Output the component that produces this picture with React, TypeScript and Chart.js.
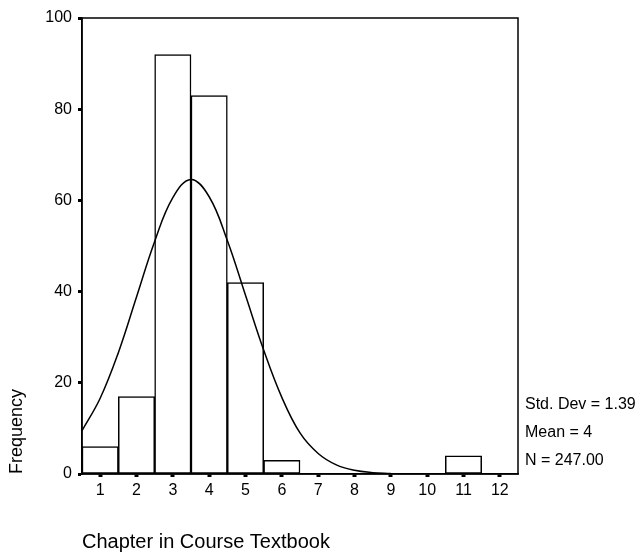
import React, { useEffect, useRef } from "react";
import { Chart, registerables } from "chart.js";

Chart.register(...registerables);

const categories = [1, 2, 3, 4, 5, 6, 7, 8, 9, 10, 11, 12];
const frequencies = [6, 17, 92, 83, 42, 3, 0, 0, 0, 0, 4, 0];
const curveX = [0.5, 1, 1.5, 2, 2.5, 3, 3.5, 4, 4.5, 5, 5.5, 6, 6.5, 7, 7.5, 8, 8.5, 9];
const curveY = [9.5, 16.6, 26.6, 38.8, 51, 60.6, 64.6, 60.8, 51.2, 39.2, 27.2, 16.8, 9.0, 4.5, 2.0, 0.8, 0.3, 0.1];
const yTicks = [0, 20, 40, 60, 80, 100];
const statsLines = ["Std. Dev = 1.39", "Mean = 4", "N = 247.00"];
const xTitle = "Chapter in Course Textbook";
const yTitle = "Frequency";

const FONT = "'Liberation Sans', Arial, sans-serif";

const framePlugin = {
  id: "frame",
  afterDatasetsDraw(chart: any) {
    const { ctx, chartArea } = chart;
    ctx.save();
    ctx.strokeStyle = "#000";
    ctx.lineWidth = 1.5;
    ctx.strokeRect(chartArea.left, chartArea.top, chartArea.right - chartArea.left, chartArea.bottom - chartArea.top);
    ctx.restore();
  },
};

const statsPlugin = {
  id: "stats",
  afterDraw(chart: any) {
    const { ctx, chartArea } = chart;
    ctx.save();
    ctx.fillStyle = "#000";
    ctx.font = `16px ${FONT}`;
    ctx.textAlign = "left";
    ctx.textBaseline = "middle";
    const offsets = [-69, -41, -13];
    statsLines.forEach((t, i) => {
      ctx.fillText(t, chartArea.right + 7, chartArea.bottom + offsets[i]);
    });
    ctx.restore();
  },
};

export default function App() {
  const ref = useRef<HTMLCanvasElement>(null);
  useEffect(() => {
    if (!ref.current) return;
    const chart = new Chart(ref.current, {
      type: "bar",
      data: {
        datasets: [
          {
            type: "line",
            data: curveX.map((x, i) => ({ x, y: curveY[i] })),
            borderColor: "#000",
            borderWidth: 1.5,
            pointRadius: 0,
            tension: 0.4,
            fill: false,
            order: 0,
          } as any,
          {
            type: "bar",
            data: categories.map((c, i) => ({ x: c, y: frequencies[i] })),
            backgroundColor: "#fff",
            borderColor: "#000",
            borderWidth: 1.5,
            borderSkipped: false,
            barPercentage: 1,
            categoryPercentage: 1,
            order: 1,
          } as any,
        ],
      },
      options: {
        responsive: false,
        animation: false,
        devicePixelRatio: 1,
        layout: { padding: { top: 18, right: 121, bottom: 0, left: 0 } },
        plugins: { legend: { display: false }, tooltip: { enabled: false } },
        scales: {
          x: {
            type: "linear",
            min: 0.5,
            max: 12.5,
            offset: false,
            afterBuildTicks: (scale: any) => {
              scale.ticks = categories.map((v) => ({ value: v }));
            },
            afterFit: (scale: any) => {
              scale.height = 78;
            },
            grid: {
              offset: false,
              drawOnChartArea: false,
              drawTicks: true,
              tickLength: 3,
              tickWidth: 4,
              tickColor: "#000",
            },
            border: { display: true, color: "#000", width: 1.5 },
            ticks: {
              color: "#000",
              font: { family: FONT, size: 16 },
              padding: 4,
              autoSkip: false,
              maxRotation: 0,
              callback: (v: any) => String(v),
            },
            title: {
              display: true,
              text: xTitle,
              align: "start",
              color: "#000",
              font: { family: FONT, size: 20, lineHeight: 1 },
              padding: { top: 0, bottom: 0 },
            },
          },
          y: {
            type: "linear",
            min: 0,
            max: 100,
            afterBuildTicks: (scale: any) => {
              scale.ticks = yTicks.map((v) => ({ value: v }));
            },
            afterFit: (scale: any) => {
              scale.width = 82;
            },
            grid: {
              drawOnChartArea: false,
              drawTicks: true,
              tickLength: 4,
              tickWidth: 3,
              tickColor: "#000",
            },
            border: { display: true, color: "#000", width: 1.5 },
            ticks: {
              color: "#000",
              font: { family: FONT, size: 16 },
              padding: 6,
            },
            title: {
              display: true,
              text: yTitle,
              align: "start",
              color: "#000",
              font: { family: FONT, size: 18, lineHeight: 1 },
              padding: { top: 8, bottom: 0 },
            },
          },
        },
      } as any,
      plugins: [framePlugin, statsPlugin],
    });
    return () => chart.destroy();
  }, []);
  return (
    <div style={{ position: "absolute", left: 0, top: 0, width: 639, height: 552, background: "#fff" }}>
      <canvas ref={ref} width={639} height={552} style={{ display: "block" }} />
    </div>
  );
}
